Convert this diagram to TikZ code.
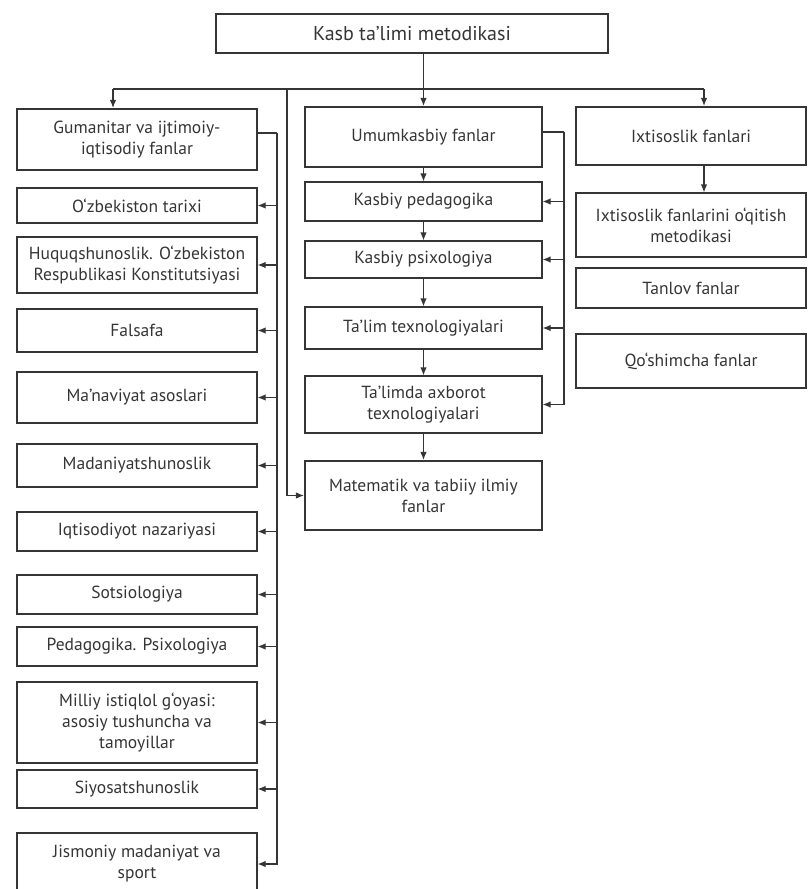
\documentclass[tikz,border=0pt]{standalone}
\usepackage{fontspec}
\setmainfont{PT Sans}
\usetikzlibrary{arrows.meta}

\definecolor{ink}{HTML}{353535}

\begin{document}
\begin{tikzpicture}[x=1pt, y=-1pt,
   box/.style={draw=ink, text=ink, line width=1.2pt, align=center, inner sep=2pt,
      font=\fontsize{17.5}{21}\selectfont},
   mainbox/.style={line width=2.1pt},
   leftbox/.style={box, minimum width=240pt},
   midbox/.style={box, minimum width=237pt},
   rightbox/.style={box, minimum width=230pt},
   link/.style={draw=ink, line width=1.2pt},
   arr/.style={link, -{Latex[length=8pt,width=6.5pt]}}]
   \clip (0,0) rectangle (809,889);
   \node[box, minimum width=392pt, minimum height=39pt, line width=1.4pt, font=\fontsize{20}{24}\selectfont] (kasb) at (412,33.5) {Kasb ta’limi metodikasi};
   \node[leftbox, mainbox, minimum height=61pt] (gum) at (137,139.5) {Gumanitar va ijtimoiy-\\iqtisodiy fanlar};
   \node[leftbox, minimum height=35pt] (tarix) at (137,205.5) {O‘zbekiston tarixi};
   \node[leftbox, minimum height=56pt] (huquq) at (137,265) {Huquqshunoslik. O‘zbekiston\\Respublikasi Konstitutsiyasi};
   \node[leftbox, minimum height=43pt] (falsafa) at (137,330.5) {Falsafa};
   \node[leftbox, minimum height=51pt] (manav) at (137,397.5) {Ma’naviyat asoslari};
   \node[leftbox, minimum height=43pt] (madan) at (137,465.5) {Madaniyatshunoslik};
   \node[leftbox, minimum height=39pt] (iqtis) at (137,531.5) {Iqtisodiyot nazariyasi};
   \node[leftbox, minimum height=39pt] (sotsio) at (137,594.5) {Sotsiologiya};
   \node[leftbox, minimum height=39pt] (pedpsi) at (137,646.5) {Pedagogika. Psixologiya};
   \node[leftbox, minimum height=81pt] (milliy) at (137,722.5) {Milliy istiqlol g‘oyasi:\\asosiy tushuncha va\\tamoyillar};
   \node[leftbox, minimum height=38pt] (siyos) at (137,789) {Siyosatshunoslik};
   \node[leftbox, minimum height=62pt] (jismon) at (137,864) {Jismoniy madaniyat va\\sport};

   \node[midbox, mainbox, minimum height=60pt] (umum) at (423.5,137) {Umumkasbiy fanlar};
   \node[midbox, minimum height=39pt] (kped) at (423.5,201.5) {Kasbiy pedagogika};
   \node[midbox, minimum height=37pt] (kpsi) at (423.5,259.5) {Kasbiy psixologiya};
   \node[midbox, minimum height=42pt] (ttex) at (423.5,328) {Ta’lim texnologiyalari};
   \node[midbox, minimum height=57pt] (axbor) at (423.5,404.5) {Ta’limda axborot\\texnologiyalari};
   \node[midbox, mainbox, minimum height=69pt] (matem) at (423.5,495.5) {Matematik va tabiiy ilmiy\\fanlar};

   \node[rightbox, mainbox, minimum height=58pt] (ixt) at (691,136) {Ixtisoslik fanlari};
   \node[rightbox, minimum height=64pt] (ixtmet) at (691,225) {Ixtisoslik fanlarini o‘qitish\\metodikasi};
   \node[rightbox, minimum height=40pt, line width=1.6pt] (tanlov) at (691,288) {Tanlov fanlar};
   \node[rightbox, mainbox, minimum height=54pt] (qosh) at (691,361) {Qo‘shimcha fanlar};

   \coordinate (hl) at (113,89);
   \coordinate (hm) at (287,89);
   \coordinate (hr) at (704,89);
   \coordinate (lb) at (277,133);
   \coordinate (rb) at (564,132);

   \draw[link] (hl) -- (hr);
   \draw[arr] (kasb.south -| umum.north) -- (umum.north);
   \draw[arr] (hl) -- (hl |- gum.north);
   \draw[arr] (hr) -- (hr |- ixt.north);
   \draw[arr] (hm) |- (matem.west);
   \draw[link] (gum.east |- lb) -- (lb);
   \draw[arr] (lb) |- (jismon.east);
   \foreach \n in {tarix,huquq,falsafa,manav,madan,iqtis,sotsio,pedpsi,milliy,siyos}
      \draw[arr] (lb |- \n.east) -- (\n.east);
   \draw[link] (umum.east |- rb) -- (rb);
   \draw[arr] (rb) |- (axbor.east);
   \foreach \n in {kped,kpsi,ttex}
      \draw[arr] (rb |- \n.east) -- (\n.east);
   \foreach \a/\b in {umum/kped,kped/kpsi,kpsi/ttex,ttex/axbor,axbor/matem}
      \draw[arr] (\a.south) -- (\b.north);
   \draw[arr] (hr |- ixt.south) -- (hr |- ixtmet.north);
\end{tikzpicture}
\end{document}
